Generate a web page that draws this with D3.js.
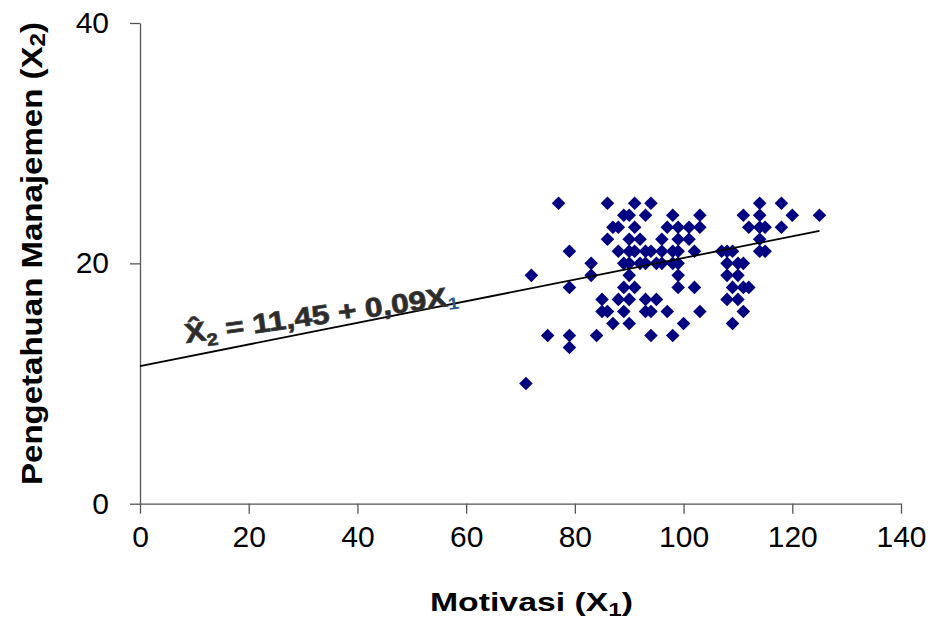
<!DOCTYPE html>
<html>
<head>
<meta charset="utf-8">
<script src="https://cdn.jsdelivr.net/npm/d3@7"></script>
<style>
  html, body { margin: 0; padding: 0; background: #fff; }
  svg { display: block; }
</style>
</head>
<body>
<svg id="chart" width="935" height="624"></svg>
<script>
// ---- Data ----
const motivasi = [
  77, 86, 91, 94, 114, 118,
  89, 90, 93, 98, 103, 111, 114, 120, 125,
  87, 88, 91, 97, 99, 101, 103, 112, 114, 115, 118,
  86, 90, 92, 96, 99, 101, 114,
  79, 88, 90, 91, 93, 94, 96, 98, 99, 102, 107, 108, 109, 114, 115,
  83, 89, 90, 92, 93, 95, 96, 98, 99, 108, 110, 111,
  72, 83, 90, 99, 108, 110,
  79, 89, 91, 99, 102, 109, 111, 112,
  85, 88, 90, 93, 95, 108, 110,
  85, 86, 89, 93, 94, 97, 103, 111,
  87, 90, 100, 109,
  75, 79, 84, 94, 98,
  79,
  71
];
const pengetahuan = [
  25, 25, 25, 25, 25, 25,
  24, 24, 24, 24, 24, 24, 24, 24, 24,
  23, 23, 23, 23, 23, 23, 23, 23, 23, 23, 23,
  22, 22, 22, 22, 22, 22, 22,
  21, 21, 21, 21, 21, 21, 21, 21, 21, 21, 21, 21, 21, 21, 21,
  20, 20, 20, 20, 20, 20, 20, 20, 20, 20, 20, 20,
  19, 19, 19, 19, 19, 19,
  18, 18, 18, 18, 18, 18, 18, 18,
  17, 17, 17, 17, 17, 17, 17,
  16, 16, 16, 16, 16, 16, 16, 16,
  15, 15, 15, 15,
  14, 14, 14, 14, 14,
  13,
  10
];
const xTicks = [0, 20, 40, 60, 80, 100, 120, 140];
const yTicks = [0, 20, 40];
const xDomain = [0, 140];
const yDomain = [0, 40];
const intercept = 11.45;
const slope = 0.09;
const lineX = [0, 125];
const xTitle = "Motivasi (X";
const xTitleSub = "1";
const yTitle = "Pengetahuan Manajemen (X";
const yTitleSub = "2";

// ---- Layout ----
const svg = d3.select("#chart");
const x = d3.scaleLinear().domain(xDomain).range([140, 901]);
const y = d3.scaleLinear().domain(yDomain).range([503.7, 23]);

const axisColor = "#555";
const font = "'Liberation Sans', Arial, sans-serif";

// X axis
const gx = svg.append("g")
  .attr("transform", `translate(0,${y(0)})`)
  .call(d3.axisBottom(x).tickValues(xTicks).tickSize(10).tickSizeOuter(0).tickPadding(12));
gx.select(".domain").attr("stroke", axisColor).attr("stroke-width", 1.3);
gx.selectAll(".tick line").attr("stroke", axisColor).attr("stroke-width", 1.3);
gx.selectAll(".tick text")
  .attr("font-family", font).attr("font-size", 30).attr("fill", "#000");

// Y axis
const gy = svg.append("g")
  .attr("transform", `translate(${x(0)},0)`)
  .call(d3.axisLeft(y).tickValues(yTicks).tickSize(10).tickSizeOuter(0).tickPadding(21));
gy.select(".domain").attr("stroke", axisColor).attr("stroke-width", 1.3);
gy.selectAll(".tick line").attr("stroke", axisColor).attr("stroke-width", 1.3);
gy.selectAll(".tick text")
  .attr("font-family", font).attr("font-size", 30).attr("fill", "#000");

// Points
const pts = motivasi.map((m, i) => ({ m, p: pengetahuan[i] }));
const sym = d3.symbol().type(d3.symbolSquare).size(92);
svg.append("g").selectAll("path")
  .data(pts)
  .join("path")
  .attr("d", sym)
  .attr("transform", d => `translate(${x(d.m)},${y(d.p)}) rotate(45)`)
  .attr("fill", "#000080");

// Regression line
svg.append("line")
  .attr("x1", x(lineX[0])).attr("y1", y(intercept + slope * lineX[0]))
  .attr("x2", x(lineX[1])).attr("y2", y(intercept + slope * lineX[1]))
  .attr("stroke", "#000").attr("stroke-width", 1.8);

// Equation text
const eq = svg.append("text")
  .attr("transform", `translate(186,343) rotate(-8)`)
  .attr("font-family", font).attr("font-weight", "bold")
  .attr("font-size", 27).attr("fill", "#2b2b2b")
  .attr("stroke", "#3a3a3a").attr("stroke-width", 0.8)
  .attr("textLength", 276).attr("lengthAdjust", "spacingAndGlyphs");
eq.append("tspan").text("X\u0302");
eq.append("tspan").attr("font-size", 17).attr("dy", 6).text("2");
eq.append("tspan").attr("dy", -6).text(" = 11,45 + 0,09X");
eq.append("tspan").attr("font-size", 17).attr("dy", 4).attr("fill", "#2a5c8a").attr("stroke", "none").text("1");

// X title
const xt = svg.append("text")
  .attr("x", 430).attr("y", 611)
  .attr("font-family", font).attr("font-weight", "bold")
  .attr("font-size", 25).attr("fill", "#000")
  .attr("textLength", 203).attr("lengthAdjust", "spacingAndGlyphs");
xt.append("tspan").text(xTitle);
xt.append("tspan").attr("font-size", 18).attr("dy", 5).text(xTitleSub);
xt.append("tspan").attr("dy", -5).text(")");

// Y title
const yt = svg.append("text")
  .attr("transform", "translate(42,485) rotate(-90)")
  .attr("font-family", font).attr("font-weight", "bold")
  .attr("font-size", 30).attr("fill", "#000")
  .attr("textLength", 463).attr("lengthAdjust", "spacingAndGlyphs");
yt.append("tspan").text(yTitle);
yt.append("tspan").attr("font-size", 22).attr("dy", 3).text(yTitleSub);
yt.append("tspan").attr("dy", -3).text(")");
</script>
</body>
</html>
